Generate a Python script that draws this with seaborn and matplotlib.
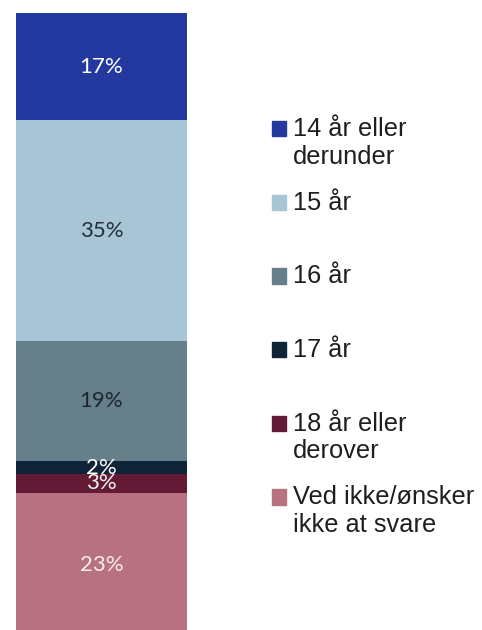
import numpy as np
import pandas as pd
import matplotlib
matplotlib.use("Agg")
import matplotlib.pyplot as plt
from matplotlib.patches import Rectangle, Patch
from matplotlib.legend_handler import HandlerPatch
import seaborn as sns

# Data (top of bar first)
labels = ["14 år eller\nderunder", "15 år", "16 år", "17 år",
          "18 år eller\nderover", "Ved ikke/ønsker\nikke at svare"]
shares = [17, 35, 19, 2, 3, 23]
colors = ["#23399f", "#a8c5d6", "#66808b", "#0f2437", "#621a35", "#b77181"]
label_colors = ["white", "#222e3a", "#1c2630", "white", "#f4f0f2", "#f6eef0"]

sns.set_theme(style="white")

df = pd.DataFrame({"label": labels, "share": shares, "color": colors})
# stack from the bottom: last category sits at the bottom
df["top"] = df["share"][::-1].cumsum()[::-1]
df["bottom"] = df["top"] - df["share"]

fig = plt.figure(figsize=(4.82, 6.3), dpi=100)
ax = fig.add_axes([16 / 482, -8 / 630, 171 / 482, 625 / 630])

# overlay cumulative bars, tallest first
for _, row in df.sort_values("top", ascending=False).iterrows():
    sns.barplot(x=["alle"], y=[row["top"]], color=row["color"], width=1,
                saturation=1, linewidth=0, ax=ax)

for (_, row), tc in zip(df.iterrows(), label_colors):
    ax.text(0, row["bottom"] + row["share"] / 2, f"{row['share']}%",
            ha="center", va="center", color=tc, fontsize=16, family="Lato")

ax.set_xlim(-0.5, 0.5)
ax.set_ylim(0, df["top"].max())
ax.axis("off")


# keep markers next to the first line of each label
def top_square(legend, orig_handle, xdescent, ydescent, width, height, fontsize):
    return Rectangle((-xdescent, -ydescent + 0.58 * fontsize), width, height)


handles = [Patch(color=c) for c in colors]
padded = [l if "\n" in l else l + "\n " for l in labels]
ax.legend(handles, padded, loc="upper left", bbox_to_anchor=(272 / 482, 1 - 117 / 630),
          bbox_transform=fig.transFigure, frameon=False,
          prop={"family": "Liberation Sans", "size": 18.3}, labelcolor="#1e1e1e",
          handlelength=0.55, handleheight=0.55, handletextpad=0.27,
          labelspacing=0.86, borderpad=0, borderaxespad=0,
          handler_map={Patch: HandlerPatch(patch_func=top_square)})

fig.savefig("out.png", dpi=100)
